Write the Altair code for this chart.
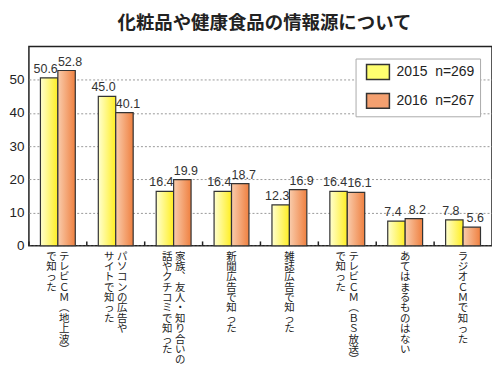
import altair as alt
import pandas as pd

title = "化粧品や健康食品の情報源について"
label_cols = [
    ["テレビCM(地上波)", "で知った"],
    ["パソコンの広告や", "サイトで知った"],
    ["家族、友人・知り合いの", "話やクチコミで知った"],
    ["新聞広告で知った"],
    ["雑誌広告で知った"],
    ["テレビCM(BS放送)", "で知った"],
    ["あてはまるものはない"],
    ["ラジオCMで知った"],
]
series = ["2015\u00a0\u00a0n=269\u00a0\u00a0", "2016\u00a0\u00a0n=267\u00a0\u00a0"]
v2015 = [50.6, 45.0, 16.4, 16.4, 12.3, 16.4, 7.4, 7.8]
v2016 = [52.8, 40.1, 19.9, 18.7, 16.9, 16.1, 8.2, 5.6]
y_ticks = [0, 10, 20, 30, 40, 50]

# vertical-writing presentation forms
vmap = {"(": "\ufe35", ")": "\ufe36", "、": "\ufe11", "C": "Ｃ", "M": "Ｍ", "B": "Ｂ", "S": "Ｓ"}


def vert(s):
    return [vmap.get(c, c) for c in s]


keys = ["".join(c) for c in label_cols]

rows = []
for k, a, b in zip(keys, v2015, v2016):
    rows.append({"key": k, "yr": "2015", "series": series[0], "v": a})
    rows.append({"key": k, "yr": "2016", "series": series[1], "v": b})
df = pd.DataFrame(rows)

crows = []
for k, cols in zip(keys, label_cols):
    if len(cols) == 1:
        for i, ch in enumerate(vert(cols[0])):
            crows.append({"key": k, "col": "c", "row": i, "ch": ch})
    else:
        for i, ch in enumerate(vert(cols[0])):
            crows.append({"key": k, "col": "r", "row": i, "ch": ch})
        for i, ch in enumerate(vert(cols[1])):
            crows.append({"key": k, "col": "l", "row": i, "ch": ch})
cdf = pd.DataFrame(crows)

xscale = alt.Scale(domain=keys, paddingInner=0, paddingOuter=0)
xs = alt.X("key:N", sort=keys, scale=xscale, axis=None)
yscale = alt.Scale(domain=[0, 60], nice=False)
yaxis = alt.Axis(title=None, values=y_ticks, ticks=False, domain=False,
                 labelFont="Liberation Sans", labelFontSize=13.5, labelColor="#222",
                 labelPadding=5, minExtent=18, maxExtent=18,
                 gridDash=[2, 2], gridColor="#999", gridWidth=1)
ys = alt.Y("v:Q", scale=yscale, axis=yaxis)
xo = alt.XOffset("yr:N", scale=alt.Scale(paddingOuter=0.66, paddingInner=0))


def grad(c0, c1):
    return alt.Gradient(gradient="linear", x1=0, x2=1, y1=0, y2=0,
                        stops=[alt.GradientStop(color=c0, offset=0),
                               alt.GradientStop(color=c1, offset=1)])


base = alt.Chart(df)
bars15 = base.transform_filter(alt.datum.yr == "2015").mark_bar(
    fill=grad("#ffffd0", "#ffee22"), stroke="#333", strokeWidth=1.2
).encode(x=xs, y=ys, xOffset=xo)
bars16 = base.transform_filter(alt.datum.yr == "2016").mark_bar(
    fill=grad("#f9ccac", "#ef8040"), stroke="#333", strokeWidth=1.2
).encode(x=xs, y=ys, xOffset=xo)

tstyle = dict(baseline="bottom", dy=-2, fontSize=12.5, font="Liberation Sans", color="#333")
txt15 = base.transform_filter(alt.datum.yr == "2015").mark_text(dx=-3.5, **tstyle).encode(
    x=xs, y=ys, xOffset=xo, text=alt.Text("v:Q", format=".1f"))
txt16 = base.transform_filter(alt.datum.yr == "2016").mark_text(dx=3.5, **tstyle).encode(
    x=xs, y=ys, xOffset=xo, text=alt.Text("v:Q", format=".1f"))

tick_df = pd.DataFrame({"key": keys, "z0": [0] * len(keys), "z1": [1.3] * len(keys)})
ticks = alt.Chart(tick_df).mark_rule(color="#222", strokeWidth=1.5).encode(
    x=alt.X("key:N", sort=keys, scale=xscale, axis=None, bandPosition=0),
    y=alt.Y("z0:Q", scale=yscale, axis=yaxis), y2="z1:Q")

legend_layer = base.mark_point(filled=True, opacity=0).encode(
    x=xs, y=ys, xOffset=xo,
    color=alt.Color("series:N",
                    scale=alt.Scale(domain=series, range=["#ffff70", "#f4a070"]),
                    legend=alt.Legend(title=None, orient="none", legendX=328, legendY=12,
                                      symbolType="M-1.53,-1H1.53V1H-1.53Z", symbolSize=225,
                                      symbolOpacity=1, symbolStrokeColor="#333",
                                      symbolStrokeWidth=1.5, symbolOffset=9,
                                      labelOffset=10, rowPadding=8, padding=5,
                                      labelFont="Liberation Sans", labelFontSize=14,
                                      labelColor="#222", strokeColor="#aaa",
                                      fillColor="white")))

main = alt.layer(bars15, bars16, txt15, txt16, ticks, legend_layer)

# vertical category labels, one character per row
rowscale = alt.Scale(domain=[0, 10], range=[211, 315])
cstyle = dict(font="Noto Sans CJK JP", fontSize=10.5, color="#222", baseline="middle", align="center")
cbase = alt.Chart(cdf)
lab_r = cbase.transform_filter(alt.datum.col == "r").mark_text(dx=6.5, **cstyle).encode(
    x=xs, y=alt.Y("row:Q", scale=rowscale, axis=None), text="ch:N")
lab_l = cbase.transform_filter(alt.datum.col == "l").mark_text(dx=-6.5, **cstyle).encode(
    x=xs, y=alt.Y("row:Q", scale=rowscale, axis=None), text="ch:N")
lab_c = cbase.transform_filter(alt.datum.col == "c").mark_text(dx=0, **cstyle).encode(
    x=xs, y=alt.Y("row:Q", scale=rowscale, axis=None), text="ch:N")
labels = alt.layer(lab_r, lab_l, lab_c)

chart = alt.layer(main, labels).resolve_scale(y="independent").properties(
    width=465, height=200,
    padding={"left": 0, "top": 5, "right": 0, "bottom": 0},
    title=alt.TitleParams(title, font="Noto Sans CJK JP", fontSize=18.5, fontWeight="bold",
                          color="#222", anchor="middle", frame="group", dx=4, offset=14),
).configure_view(stroke="#222", strokeWidth=1.5)

chart.save("out.html", embed_options={"renderer": "svg", "actions": False})
